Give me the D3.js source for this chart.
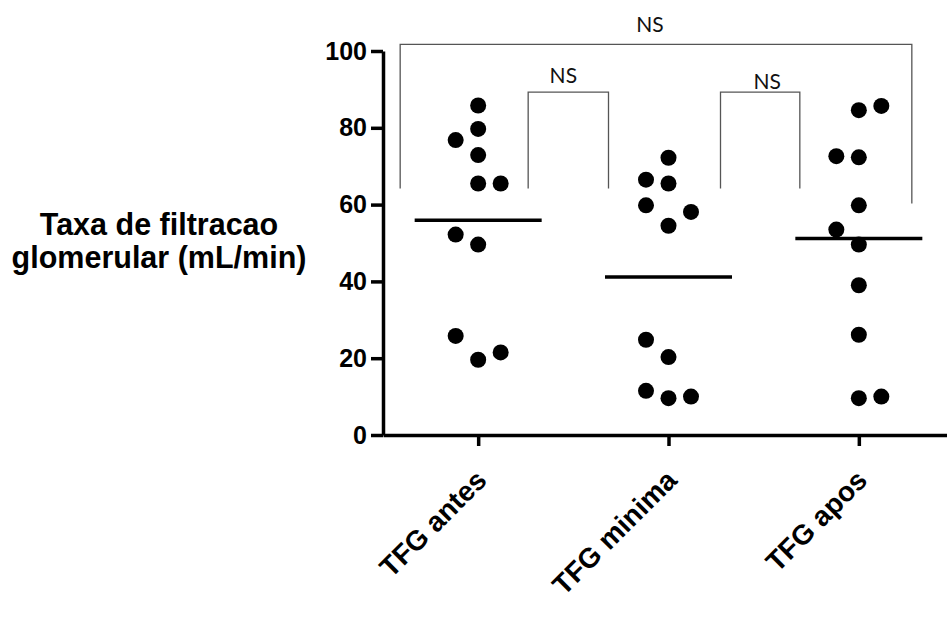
<!DOCTYPE html>
<html>
<head>
<meta charset="utf-8">
<script src="https://cdn.jsdelivr.net/npm/d3@7"></script>
<style>
  body { margin: 0; background: #fff; }
  svg { display: block; }
</style>
</head>
<body>
<script>
// group names on the x axis
const groups = ["TFG antes", "TFG minima", "TFG apos"];
// values (mL/min)
const antes  = [85.8, 79.7, 76.8, 72.9, 65.5, 65.5, 52.2, 49.6, 25.8, 21.5, 19.6];
const minima = [72.2, 66.5, 65.5, 59.8, 58.1, 54.5, 24.8, 20.3, 11.5, 10.0, 9.6];
const apos   = [85.7, 84.6, 72.6, 72.3, 59.8, 53.5, 49.6, 39.0, 26.1, 10.0, 9.6];
// scatter column of each dot (-1 left, 0 centre, 1 right)
const antesCol  = [0, 0, -1, 0, 0, 1, -1, 0, -1, 1, 0];
const minimaCol = [0, -1, 0, -1, 1, 0, -1, 0, -1, 1, 0];
const aposCol   = [1, 0, -1, 0, 0, -1, 0, 0, 0, 1, 0];
const yTicks = [0, 20, 40, 60, 80, 100];
// comparisons drawn as brackets
const pairs = [["TFG antes", "TFG minima"], ["TFG minima", "TFG apos"], ["TFG antes", "TFG apos"]];
const pairLabels = ["NS", "NS", "NS"];

const series = [
  {name: groups[0], values: antes, cols: antesCol},
  {name: groups[1], values: minima, cols: minimaCol},
  {name: groups[2], values: apos, cols: aposCol}
];

const width = 947, height = 628;
const boldFont = "'Liberation Sans', Arial, sans-serif";
const svg = d3.select("body").append("svg")
  .attr("width", width)
  .attr("height", height);

const x = d3.scalePoint()
  .domain(groups)
  .range([383, 954])
  .padding(0.5);

const y = d3.scaleLinear()
  .domain([0, 100])
  .range([435, 51]);

// horizontal spread of the dots within a column
const jitter = d3.scaleLinear().domain([-1, 1]).range([-22.5, 22.5]);

// y axis
const yAxis = svg.append("g")
  .attr("transform", "translate(383,0)")
  .call(d3.axisLeft(y).tickValues(yTicks).tickSize(12).tickSizeOuter(0).tickPadding(4));
yAxis.select(".domain").attr("stroke-width", 3.5);
yAxis.selectAll(".tick line").attr("stroke-width", 3.5);
yAxis.selectAll(".tick text")
  .style("font-family", boldFont)
  .style("font-weight", "bold")
  .style("font-size", "25px")
  .attr("fill", "#000");

// x axis
const xAxis = svg.append("g")
  .attr("transform", "translate(0,435)")
  .call(d3.axisBottom(x).tickSize(11).tickSizeOuter(0).tickFormat(""));
xAxis.select(".domain").attr("stroke-width", 3.5);
xAxis.selectAll(".tick line").attr("stroke-width", 3.5);

// rotated category labels
svg.append("g")
  .selectAll("text")
  .data(groups)
  .join("text")
  .attr("transform", d => `translate(${x(d) + 10},482) rotate(-45)`)
  .attr("text-anchor", "end")
  .style("font-family", boldFont)
  .style("font-weight", "bold")
  .style("font-size", "28px")
  .text(d => d);

// y axis title
svg.append("text")
  .attr("text-anchor", "middle")
  .style("font-family", boldFont)
  .style("font-weight", "bold")
  .style("font-size", "30.5px")
  .selectAll("tspan")
  .data(["Taxa de filtracao", "glomerular (mL/min)"])
  .join("tspan")
  .attr("x", 159)
  .attr("y", (d, i) => 235 + i * 32.5)
  .text(d => d);

// dots
series.forEach(s => {
  svg.append("g")
    .selectAll("circle")
    .data(s.values)
    .join("circle")
    .attr("cx", (d, i) => x(s.name) + jitter(s.cols[i]))
    .attr("cy", d => y(d))
    .attr("r", 8)
    .attr("fill", "#000");
});

// mean lines
svg.append("g")
  .selectAll("line")
  .data(series)
  .join("line")
  .attr("x1", d => x(d.name) - 63.5)
  .attr("x2", d => x(d.name) + 63.5)
  .attr("y1", d => y(d3.mean(d.values)))
  .attr("y2", d => y(d3.mean(d.values)))
  .attr("stroke", "#000")
  .attr("stroke-width", 3.5);

// significance brackets
const bracketLayout = [
  {left: 50, right: -60, top: 89.3, legL: 64.2, legR: 64.2, dx: -5, dy: 9.5},
  {left: 52, right: -59, top: 89.3, legL: 64.2, legR: 64.2, dx: 7, dy: 3},
  {left: -78, right: 53, top: 101.7, legL: 64.2, legR: 60.3, dx: -6, dy: 12.5}
];
const brackets = svg.append("g");
pairs.forEach((p, i) => {
  const b = bracketLayout[i];
  const x1 = x(p[0]) + b.left, x2 = x(p[1]) + b.right;
  brackets.append("path")
    .attr("d", `M${x1},${y(b.legL)}V${y(b.top)}H${x2}V${y(b.legR)}`)
    .attr("fill", "none")
    .attr("stroke", "#555")
    .attr("stroke-width", 1.3);
  brackets.append("text")
    .attr("x", (x1 + x2) / 2 + b.dx)
    .attr("y", y(b.top) - b.dy)
    .attr("text-anchor", "middle")
    .style("font-family", "Lato, 'Open Sans', sans-serif")
    .style("font-size", "21px")
    .attr("fill", "#111")
    .text(pairLabels[i]);
});
</script>
</body>
</html>
